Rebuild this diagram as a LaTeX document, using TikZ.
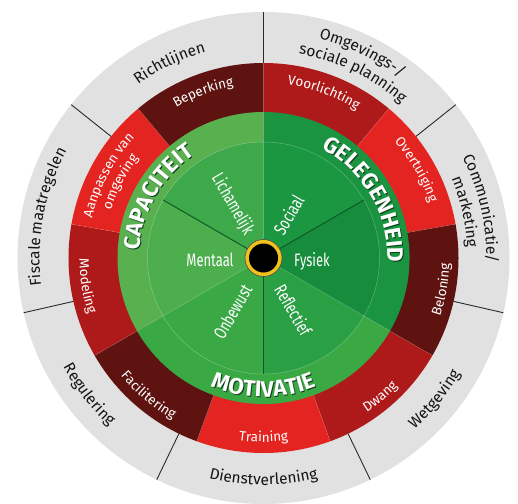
\documentclass[tikz,border=0pt]{standalone}
\usepackage{fontspec}
\setmainfont{Fira Sans}
\newfontfamily\condfont[FakeStretch=0.72]{Fira Sans}
\newfontfamily\bigfont{Fira Sans}
\usetikzlibrary{decorations.text}

\definecolor{ringgray}{HTML}{E1E1E1}
\definecolor{outertext}{HTML}{141414}
\definecolor{divline}{HTML}{2A2A2A}
\definecolor{redb}{HTML}{E42420}
\definecolor{redm}{HTML}{AE1A1A}
\definecolor{redd}{HTML}{5E1310}
\definecolor{capring}{HTML}{58B04F}
\definecolor{lich}{HTML}{3EA94B}
\definecolor{ment}{HTML}{4DAE4D}
\definecolor{oppring}{HTML}{1A9440}
\definecolor{soc}{HTML}{1B9641}
\definecolor{fys}{HTML}{168C3C}
\definecolor{motring}{HTML}{3AA944}
\definecolor{refl}{HTML}{2A9F44}
\definecolor{onb}{HTML}{3AA845}
\definecolor{subline}{HTML}{0E5A27}
\definecolor{hubyellow}{HTML}{F2C21C}
\definecolor{shadowgreen}{HTML}{0D3F1A}

\newcommand\fouter{\fontsize{15.5}{16}\selectfont\color{outertext}}
\newcommand\fred{\fontsize{13.5}{14}\selectfont\color{white}}
\newcommand\fgreen{\bigfont\bfseries\fontsize{22.5}{22.5}\selectfont\color{white}}
\newcommand\fgshadow{\bigfont\bfseries\fontsize{22.5}{22.5}\selectfont\color{shadowgreen}}

% clockwise arc text (tops outward): radius, centre angle, format, text
\newcommand\cwtext[4]{\path[decorate,decoration={text along path,text align=center,text={|#3|#4}}]
  ({#2+42}:#1) arc[start angle={#2+42},end angle={#2-42},radius=#1];}
% counter-clockwise arc text (tops inward)
\newcommand\ccwtext[4]{\path[decorate,decoration={text along path,text align=center,text={|#3|#4}}]
  ({#2-42}:#1) arc[start angle={#2-42},end angle={#2+42},radius=#1];}

\tikzset{
  inlbl/.style={text=white,font=\condfont\fontsize{18}{18}\selectfont,inner sep=0pt},
  divider/.style={draw=divline,line width=0.9pt},
  subdiv/.style={draw=subline,line width=1pt},
  faint/.style={draw=white,draw opacity=0.25,line width=0.6pt}
}

\begin{document}
\begin{tikzpicture}[x=1pt,y=1pt]
\useasboundingbox (-263.5,-245) rectangle (254.5,258);
\clip (-263.5,-245) rectangle (254.5,258);
\fill[white] (-263.5,-245) rectangle (254.5,258);

% outer grey ring
\fill[ringgray] (0,0) circle (246);
\foreach \a in {90,38.571,-12.857,-64.286,-115.714,-167.143,141.429}
  \draw[divider] (\a:195) -- (\a:246);

% red ring
\foreach \a/\c in {50/redm,10/redb,-30/redd,-70/redm,-110/redb,-150/redd,170/redm,130/redb,90/redd}
  \fill[\c] (0,0) -- (\a:195) arc[start angle=\a,end angle=\a+40,radius=195] -- cycle;
\foreach \a in {50,10,-30,-70,-110,-150,170,130,90}
  \draw[faint,draw opacity=0.15] (\a:146) -- (\a:195);

% green ring
\foreach \a/\c in {90/capring,-30/oppring,210/motring}
  \fill[\c] (0,0) -- (\a:146) arc[start angle=\a,end angle=\a+120,radius=146] -- cycle;
\foreach \a/\c in {90/lich,150/ment,210/onb,270/refl,-30/fys,30/soc}
  \fill[\c] (0,0) -- (\a:116) arc[start angle=\a,end angle=\a+60,radius=116] -- cycle;
\draw[faint,draw opacity=0.3,line width=0.5pt] (0,0) circle (116);
\foreach \a in {90,-30,210}
  \draw[faint] (\a:18) -- (\a:146);
\foreach \a in {150,30,-90}
  \draw[subdiv] (\a:18) -- (\a:116);

% hub
\fill[hubyellow,draw=black!70,line width=0.6pt] (0,0) circle (18.5);
\fill[black] (0,0) circle (14.5);

% inner labels
\node[inlbl,rotate=-60] (lichamelijk) at (120:62) {Lichamelijk};
\node[inlbl,rotate=60] (sociaal) at (60:50) {Sociaal};
\node[inlbl] (mentaal) at (-53.5,-2) {Mentaal};
\node[inlbl] (fysiek) at (48.5,-3) {Fysiek};
\node[inlbl,rotate=-60] (reflectief) at (-60:60) {Reflectief};
\node[inlbl,rotate=60] (onbewust) at (240:62) {Onbewust};

% green ring labels with shadow
\begin{scope}[shift={(0.9,-0.9)}]
  \cwtext{124}{150}{\fgshadow}{CAPACITEIT}
  \cwtext{124}{30}{\fgshadow}{GELEGENHEID}
  \ccwtext{139}{-90}{\fgshadow}{MOTIVATIE}
\end{scope}
\cwtext{124}{150}{\fgreen}{CAPACITEIT}
\cwtext{124}{30}{\fgreen}{GELEGENHEID}
\ccwtext{139}{-90}{\fgreen}{MOTIVATIE}

% red ring labels
\cwtext{174}{110}{\fred}{Beperking}
\cwtext{175}{70}{\fred}{Voorlichting}
\cwtext{175}{30}{\fred}{Overtuiging}
\ccwtext{186}{-10}{\fred}{Beloning}
\ccwtext{186}{-50}{\fred}{Dwang}
\ccwtext{184}{-90}{\fred}{Training}
\ccwtext{185}{-130}{\fred}{Facilitering}
\ccwtext{184}{189}{\fred}{Modeling}
\cwtext{176}{152}{\fred}{Aanpassen van}
\cwtext{160}{152}{\fred}{omgeving}

% outer ring labels
\cwtext{214}{115.71}{\fouter}{Richtlijnen}
\cwtext{226}{64.29}{\fouter}{Omgevings-/}
\cwtext{207}{64.29}{\fouter}{sociale planning}
\cwtext{223}{12.86}{\fouter}{Communicatie/}
\cwtext{204}{12.86}{\fouter}{marketing}
\ccwtext{228}{-39.5}{\fouter}{Wetgeving}
\ccwtext{227}{-90}{\fouter}{Dienstverlening}
\ccwtext{228}{-142}{\fouter}{Regulering}
\cwtext{224}{181}{\fouter}{Fiscale}
\cwtext{224}{162.8}{\fouter}{maatregelen}
\end{tikzpicture}
\end{document}
